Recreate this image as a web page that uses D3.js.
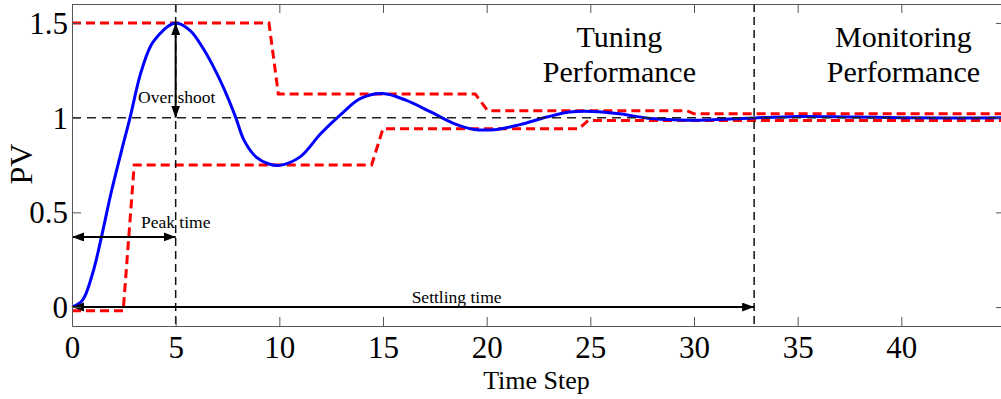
<!DOCTYPE html>
<html><head><meta charset="utf-8">
<script src="https://cdn.jsdelivr.net/npm/d3@7"></script>
<style>
body{margin:0;background:#fff}
svg{display:block}
text{font-family:"Liberation Serif","Times New Roman",serif;fill:#000}
</style>
</head><body><svg id="c" width="1001" height="399"></svg>
<script>
// ---- data ----
const timeSteps = [0, 0.5, 1, 1.4, 1.9, 2.4, 2.8, 3.3, 3.8, 4.3, 4.6, 5, 5.7, 6.3, 7, 7.5, 7.9, 8.3, 8.9, 9.5, 10,
  11, 12, 13, 13.9, 15, 16.1, 17.3, 18.4, 19.4, 20.5, 21.6, 22.9, 24, 25.1, 26.4, 27.7, 28.7, 30, 31.2, 32.9,
  35, 37.5, 40, 42.5, 45];
const pvValues = [0, 0.035, 0.18, 0.36, 0.61, 0.83, 1.0, 1.23, 1.38, 1.45, 1.48, 1.5, 1.46, 1.37, 1.23, 1.11, 1.0, 0.88, 0.79, 0.755, 0.748,
  0.793, 0.916, 1.02, 1.1, 1.127, 1.092, 1.03, 0.97, 0.938, 0.938, 0.963, 1.003, 1.03, 1.033, 1.021, 0.998, 0.99, 0.986, 0.99, 0.998,
  1.006, 1.004, 1.0, 0.998, 1.0];
const upperTimes = [0, 9.5, 9.95, 19.45, 20.05, 29.65, 30.0, 45];
const upperBound = [1.5, 1.5, 1.125, 1.125, 1.037, 1.037, 1.02, 1.02];
const lowerTimes = [0, 2.47, 3.0, 14.45, 15.0, 24.45, 24.9, 45];
const lowerBound = [-0.02, -0.02, 0.75, 0.75, 0.942, 0.942, 0.985, 0.985];
const xTicks = [0, 5, 10, 15, 20, 25, 30, 35, 40];
const yTicks = [0, 0.5, 1, 1.5];
const yTickLabels = ["0", "0.5", "1", "1.5"];
const setPoint = 1;
const peakTime = 5, peakValue = 1.5, settlingTime = 32.9, peakArrowLevel = 0.37;
const xDomain = [0, 45], yDomain = [-0.1, 1.6];

// ---- drawing ----
const svg = d3.select('#c');
const x = d3.scaleLinear().domain(xDomain).range([72, 1005]);
const y = d3.scaleLinear().domain(yDomain).range([326, 4]);
const axisColor = '#555';

const defs = svg.append('defs');
defs.append('marker').attr('id', 'ah')
  .attr('markerUnits', 'userSpaceOnUse').attr('markerWidth', 13).attr('markerHeight', 10)
  .attr('refX', 12).attr('refY', 4.5).attr('orient', 'auto-start-reverse')
  .append('path').attr('d', 'M0,0 L12,4.5 L0,9 Z').attr('fill', '#000');

const plot = svg.append('g');

const line = d3.line().x(d => x(d[0])).y(d => y(d[1]));
const upperData = upperTimes.map((t, i) => [t, upperBound[i]]);
const lowerData = lowerTimes.map((t, i) => [t, lowerBound[i]]);

[upperData, lowerData].forEach(dat => {
  plot.append('path').datum(dat).attr('d', line)
    .attr('fill', 'none').attr('stroke', '#ff0000').attr('stroke-width', 3)
    .attr('stroke-dasharray', '9,5');
});

const pvData = timeSteps.map((t, i) => [t, pvValues[i]]);
plot.append('path').datum(pvData)
  .attr('d', d3.line().x(d => x(d[0])).y(d => y(d[1])).curve(d3.curveCatmullRom.alpha(0.5)))
  .attr('fill', 'none').attr('stroke', '#0000ff').attr('stroke-width', 3);

// reference dashed lines
plot.append('line').attr('x1', x(xDomain[0])).attr('x2', x(xDomain[1]))
  .attr('y1', y(setPoint)).attr('y2', y(setPoint))
  .attr('stroke', '#222').attr('stroke-width', 1.5).attr('stroke-dasharray', '9,6');
[peakTime, settlingTime].forEach(t => {
  plot.append('line').attr('x1', x(t)).attr('x2', x(t))
    .attr('y1', y(yDomain[1])).attr('y2', y(yDomain[0]))
    .attr('stroke', '#111').attr('stroke-width', 1.5).attr('stroke-dasharray', '8,5');
});

// arrows
function arrow(x1, y1, x2, y2) {
  plot.append('line').attr('x1', x1).attr('y1', y1).attr('x2', x2).attr('y2', y2)
    .attr('stroke', '#000').attr('stroke-width', 2)
    .attr('marker-start', 'url(#ah)').attr('marker-end', 'url(#ah)');
}
arrow(x(peakTime), y(peakValue), x(peakTime), y(setPoint));
arrow(x(0), y(peakArrowLevel), x(peakTime), y(peakArrowLevel));
arrow(x(0), y(0), x(settlingTime), y(0));

const ann = (tx, ty, s, size) => svg.append('text').attr('x', tx).attr('y', ty)
  .attr('text-anchor', 'middle').attr('font-size', size).text(s);
ann(x(5.05), y(1.075), 'Over shoot', 17.5);
ann(x(5.0), y(0.42), 'Peak time', 17.5);
ann(x(18.55), y(0.024), 'Settling time', 17.5);
ann(x(26.4), y(1.373), 'Tuning', 30);
ann(x(26.4), y(1.188), 'Performance', 30);
ann(x(40.1), y(1.373), 'Monitoring', 30);
ann(x(40.1), y(1.188), 'Performance', 30);

// axes
function styleAxis(g) {
  g.selectAll('path.domain').attr('stroke', axisColor).attr('stroke-width', 1);
  g.selectAll('.tick line').attr('stroke', axisColor).attr('stroke-width', 1);
}
const gb = svg.append('g').attr('transform', `translate(0,${y(yDomain[0])})`)
  .call(d3.axisBottom(x).tickValues(xTicks).tickSize(-9).tickSizeOuter(0).tickFormat(d3.format('d')));
gb.selectAll('text').attr('y', 32).attr('dy', 0).attr('font-size', 31)
  .attr('font-family', '"Liberation Serif","Times New Roman",serif').attr('fill', '#000');
styleAxis(gb);

const gt = svg.append('g').attr('transform', `translate(0,${y(yDomain[1])})`)
  .call(d3.axisTop(x).tickValues(xTicks).tickSize(-9).tickSizeOuter(0).tickFormat(''));
styleAxis(gt);

const gl = svg.append('g').attr('transform', `translate(${x(xDomain[0])},0)`)
  .call(d3.axisLeft(y).tickValues(yTicks).tickSize(-9).tickSizeOuter(0)
    .tickFormat((d, i) => yTickLabels[i]));
gl.selectAll('text').attr('x', -4).attr('dy', '0.34em').attr('font-size', 31)
  .attr('font-family', '"Liberation Serif","Times New Roman",serif').attr('fill', '#000');
styleAxis(gl);

const gr = svg.append('g').attr('transform', `translate(${x(xDomain[1])},0)`)
  .call(d3.axisRight(y).tickValues(yTicks).tickSize(-9).tickSizeOuter(0).tickFormat(''));
styleAxis(gr);

// axis titles
svg.append('text').attr('x', (x.range()[0] + x.range()[1]) / 2 - 2).attr('y', 389)
  .attr('text-anchor', 'middle').attr('font-size', 26).text('Time Step');
svg.append('text').attr('transform', 'translate(32,164) rotate(-90)')
  .attr('text-anchor', 'middle').attr('font-size', 32).text('PV');
</script>
</body></html>
